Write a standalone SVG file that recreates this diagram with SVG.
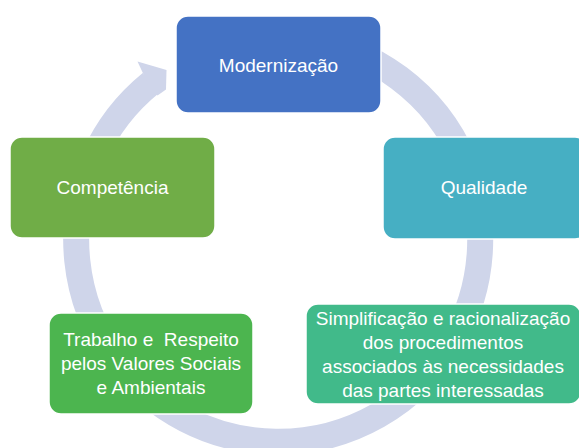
<svg xmlns="http://www.w3.org/2000/svg" width="579" height="448" viewBox="0 0 579 448">
<style>
.box{stroke:#ffffff;stroke-width:1.5}
.t{font-family:"Liberation Sans",Arial,sans-serif;font-size:19px;fill:#ffffff;text-anchor:middle;white-space:pre}
.ring{fill:none;stroke:#CFD5EA;stroke-width:26}
</style>
<rect width="579" height="448" fill="#ffffff"/>
<g id="connectors">
<path class="ring" d="M 208.9 50.1 A 202 202 0 1 1 150.9 83.0"/>
<polygon points="137.5,61.5 166.5,70 166,89.5 157.5,95.5 148,84" fill="#CFD5EA"/>
</g>
<g id="modernizacao">
<rect class="box" x="176" y="16" width="205" height="97" rx="12" fill="#4472C4"/>
<text class="t" x="278.5" y="72">Modernização</text>
</g>
<g id="qualidade">
<rect class="box" x="383" y="137" width="204" height="102" rx="12" fill="#46AFC3"/>
<text class="t" x="484" y="194">Qualidade</text>
</g>
<g id="simplificacao">
<rect class="box" x="306" y="304" width="275" height="100" rx="12" fill="#41BA8A"/>
<text class="t" x="443" y="325">Simplificação e racionalização</text>
<text class="t" x="443" y="349">dos procedimentos</text>
<text class="t" x="443" y="373">associados às necessidades</text>
<text class="t" x="443" y="397">das partes interessadas</text>
</g>
<g id="trabalho">
<rect class="box" x="49" y="313" width="204" height="101" rx="12" fill="#4CB54F"/>
<text class="t" x="151" y="346">Trabalho e  Respeito</text>
<text class="t" x="151" y="370">pelos Valores Sociais</text>
<text class="t" x="151" y="394">e Ambientais</text>
</g>
<g id="competencia">
<rect class="box" x="10" y="137" width="205" height="101" rx="12" fill="#70AD47"/>
<text class="t" x="112.5" y="194">Competência</text>
</g>
</svg>
